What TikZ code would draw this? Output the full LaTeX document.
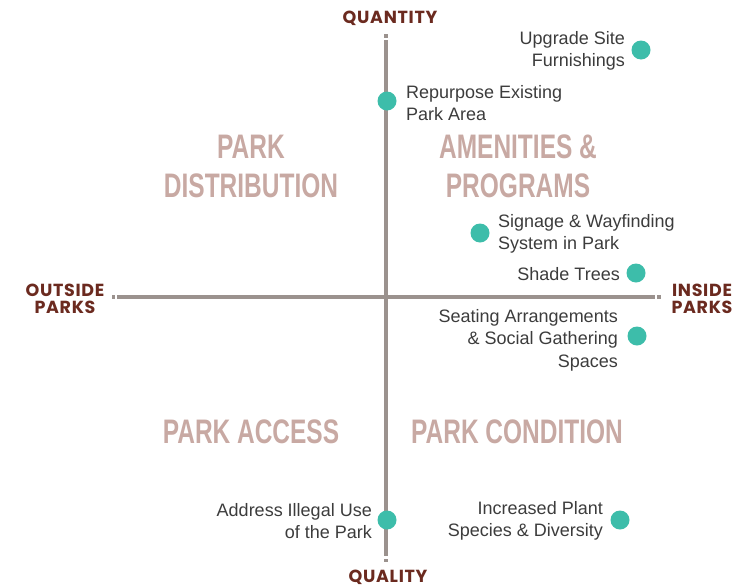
\documentclass[tikz,border=0pt]{standalone}
\usepackage{fontspec}
\setmainfont{Liberation Sans}
\newfontfamily\axisfont[LetterSpace=4]{Poppins}
\newfontfamily\quadfont[FakeStretch=0.72]{Liberation Sans}
\definecolor{axred}{HTML}{6B2A1F}
\definecolor{quadc}{HTML}{C8A9A3}
\definecolor{teal}{HTML}{3DBDAA}
\definecolor{axgray}{HTML}{9B928E}
\definecolor{txt}{HTML}{3C3C3C}
\begin{document}
\begin{tikzpicture}[x=1pt,y=-1pt,
  axis/.style={draw=axgray,line width=3.8pt},
  axcap/.style={fill=axgray,draw=none},
  axlabel/.style={inner sep=0,text=axred,font=\axisfont\bfseries\fontsize{17.5}{17}\selectfont,align=center},
  quad/.style={inner sep=0,text=quadc,font=\quadfont\bfseries\fontsize{34}{39}\selectfont,align=center},
  item/.style={inner sep=0,text=txt,font=\fontsize{18}{22.5}\selectfont},
  dot/.style={circle,fill=teal,draw=none,minimum size=19pt,inner sep=0}]
\useasboundingbox (0,0) rectangle (750,587);
% axes
\coordinate (vt) at (386,40);
\coordinate (vb) at (386,556);
\coordinate (hl) at (117,297);
\coordinate (hr) at (655,297);
\draw[axis] (vt) -- (vb);
\draw[axis] (hl) -- (hr);
\fill[axcap] (384.1,34) rectangle (387.9,37.5);
\fill[axcap] (384.1,558.5) rectangle (387.9,562);
\fill[axcap] (111.5,295.1) rectangle (115,298.9);
\fill[axcap] (657,295.1) rectangle (660.5,298.9);
% axis labels
\node[axlabel] (qty) at (390,18) {QUANTITY};
\node[axlabel] (qly) at (388,577) {QUALITY};
\node[axlabel] (out) at (65,298.5) {OUTSIDE\\PARKS};
\node[axlabel] (ins) at (702,298.5) {INSIDE\\PARKS};
% quadrant labels
\node[quad] (q1) at (251,166) {PARK\\DISTRIBUTION};
\node[quad] (q2) at (518,166) {AMENITIES \&\\PROGRAMS};
\node[quad] (q3) at (251,432) {PARK ACCESS};
\node[quad] (q4) at (517,432) {PARK CONDITION};
% items
\node[dot] (d1) at (641,50) {};
\node[item,align=right,anchor=east] (t1) at (625,51) {Upgrade Site\\Furnishings};
\node[dot] (d2) at (387,101) {};
\node[item,align=left,anchor=west] (t2) at (406,103) {Repurpose Existing\\Park Area};
\node[dot] (d3) at (480,233) {};
\node[item,align=left,anchor=west] (t3) at (498,234) {Signage \& Wayfinding\\System in Park};
\node[dot] (d4) at (636,273) {};
\node[item,align=right,anchor=east] (t4) at (620,274) {Shade Trees};
\node[dot] (d5) at (637,336) {};
\node[item,align=right,anchor=east] (t5) at (618,340) {Seating Arrangements\\\& Social Gathering\\Spaces};
\node[dot] (d6) at (387,520) {};
\node[item,align=right,anchor=east] (t6) at (372,521) {Address Illegal Use\\of the Park};
\node[dot] (d7) at (620,520) {};
\node[item,align=right,anchor=east] (t7) at (603,521) {Increased Plant\\Species \& Diversity};
\end{tikzpicture}
\end{document}
